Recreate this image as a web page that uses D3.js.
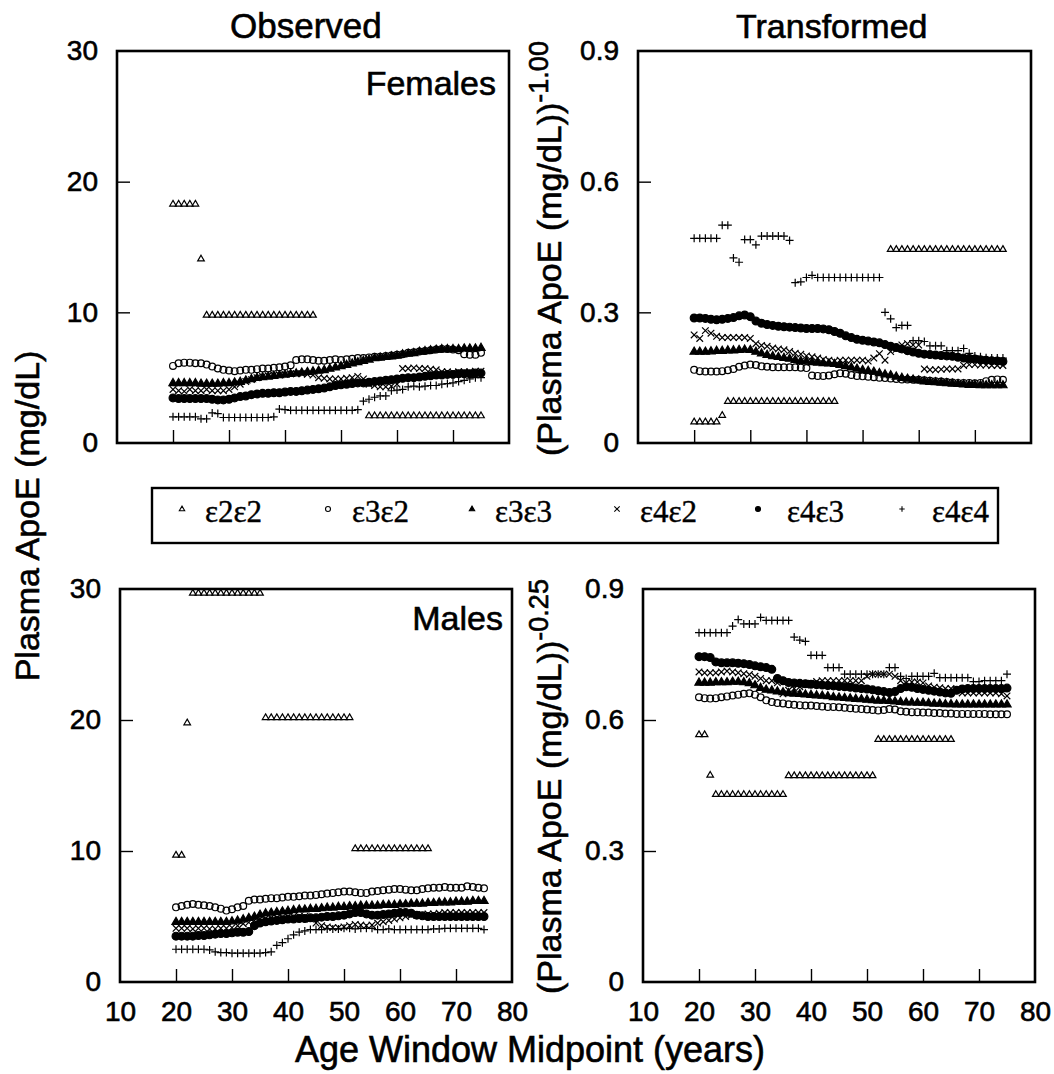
<!DOCTYPE html>
<html>
<head>
<meta charset="utf-8">
<script src="https://cdn.jsdelivr.net/npm/d3@7"></script>
<style>
  body { margin: 0; background: #fff; }
  svg text { font-family: "Liberation Sans", Arial, Helvetica, sans-serif; fill: #000; }
  svg text.heavy { stroke: #000; stroke-width: 0.6px; }
</style>
</head>
<body>
<svg id="chart" width="1054" height="1074"></svg>
<script>
// Age window midpoints (years)
const ages = [20,21,22,23,24,25,26,27,28,29,30,31,32,33,34,35,36,37,38,39,
              40,41,42,43,44,45,46,47,48,49,50,51,52,53,54,55,56,57,58,59,
              60,61,62,63,64,65,66,67,68,69,70,71,72,73,74,75];

const genotypes = ["ε2ε2", "ε3ε2", "ε3ε3", "ε4ε2", "ε4ε3", "ε4ε4"];
const markerTypes = ["triangleOpen", "circleOpen", "triangleFilled", "times", "circleFilled", "plus"];

const yTicksObserved = [0, 10, 20, 30];
const yTicksTransformed = [0, 0.3, 0.6, 0.9];
const xTickLabels = [10, 20, 30, 40, 50, 60, 70, 80];
const xTicksInner = [20, 30, 40, 50, 60, 70];

const _ = null;

// ---- Females, observed plasma ApoE (mg/dL)
const femObs_e2e2 = [18.3,18.3,18.3,18.3,18.3,14.1,9.8,9.8,9.8,9.8,9.8,9.8,9.8,9.8,9.8,9.8,9.8,9.8,9.8,9.8,
  9.8,9.8,9.8,9.8,9.8,9.8,_,_,_,_,_,_,_,_,_,2.1,2.1,2.1,2.1,2.1,
  2.1,2.1,2.1,2.1,2.1,2.1,2.1,2.1,2.1,2.1,2.1,2.1,2.1,2.1,2.1,2.1];
const femObs_e3e2 = [5.9,6.1,6.15,6.15,6.1,6.1,6.0,5.85,5.7,5.6,
  5.55,5.5,5.55,5.6,5.6,5.65,5.7,5.7,5.75,5.8,
  5.85,5.95,6.35,6.4,6.4,6.35,6.3,6.3,6.35,6.4,
  6.35,6.4,6.45,6.5,6.5,6.55,6.6,6.6,6.65,6.7,
  6.75,6.8,6.9,6.95,7.0,7.05,7.1,7.15,7.2,7.2,
  7.15,7.1,6.8,6.75,6.75,6.9];
const femObs_e3e3 = [4.6,4.6,4.6,4.6,4.6,4.55,4.55,4.55,4.55,4.6,
  4.6,4.65,4.7,4.8,4.9,5.0,5.05,5.1,5.15,5.2,
  5.25,5.3,5.35,5.4,5.45,5.5,5.55,5.6,5.7,5.8,
  5.9,6.0,6.1,6.2,6.3,6.4,6.5,6.55,6.6,6.65,
  6.7,6.8,6.85,6.9,7.0,7.05,7.1,7.15,7.2,7.2,
  7.2,7.2,7.25,7.25,7.25,7.3];
const femObs_e4e2 = [4.1,4.0,3.95,4.1,4.0,4.0,4.1,4.0,4.0,4.0,
  4.1,4.3,4.5,4.7,4.85,5.0,5.1,5.15,5.2,5.2,
  5.25,5.3,5.3,5.3,5.25,5.2,5.0,4.95,4.9,4.9,
  4.9,4.95,5.0,5.1,4.9,4.5,4.4,4.3,4.3,4.35,
  4.5,5.7,5.7,5.75,5.7,5.7,5.65,5.6,5.45,5.45,
  5.4,5.45,5.45,5.45,5.5,5.5];
const femObs_e4e3 = [3.45,3.4,3.4,3.4,3.4,3.4,3.4,3.35,3.3,3.3,
  3.35,3.45,3.55,3.6,3.7,3.75,3.8,3.8,3.85,3.85,
  3.9,3.95,3.95,4.0,4.05,4.1,4.15,4.2,4.3,4.4,
  4.45,4.5,4.55,4.6,4.6,4.65,4.7,4.75,4.8,4.85,
  4.9,4.95,5.0,5.0,5.05,5.1,5.15,5.2,5.2,5.25,
  5.25,5.3,5.3,5.3,5.35,5.35];
const femObs_e4e4 = [2.0,2.0,2.0,2.0,2.0,1.85,1.85,2.3,2.25,1.95,
  1.95,1.95,1.95,1.95,1.95,1.95,1.95,1.95,2.0,2.6,
  2.55,2.5,2.5,2.5,2.5,2.5,2.5,2.5,2.5,2.5,
  2.5,2.5,2.5,2.55,3.2,3.35,3.5,3.6,3.6,4.0,
  4.05,4.1,4.3,4.35,4.3,4.35,4.4,4.4,4.5,4.55,
  4.6,4.7,4.8,4.9,5.0,5.0];

// ---- Females, transformed (mg/dL)^-1.00
const femTr_e2e2 = [0.049,0.049,0.049,0.049,0.049,0.064,0.096,0.096,0.096,0.096,
  0.096,0.096,0.096,0.096,0.096,0.096,0.096,0.096,0.096,0.096,
  0.096,0.096,0.096,0.096,0.096,0.096,_,_,_,_,_,_,_,_,_,0.445,0.445,0.445,0.445,0.445,
  0.445,0.445,0.445,0.445,0.445,0.445,0.445,0.445,0.445,0.445,0.445,0.445,0.445,0.445,0.445,0.445];
const femTr_e3e2 = [0.168,0.165,0.164,0.164,0.164,0.165,0.167,0.17,0.175,0.178,
  0.18,0.179,0.176,0.175,0.174,0.174,0.174,0.174,0.174,0.173,
  0.172,0.155,0.154,0.154,0.155,0.158,0.16,0.159,0.156,0.154,
  0.153,0.152,0.151,0.15,0.149,0.148,0.147,0.146,0.146,0.145,
  0.145,0.144,0.143,0.142,0.141,0.14,0.139,0.138,0.138,0.138,
  0.137,0.138,0.142,0.145,0.146,0.145];
const femTr_e3e3 = [0.21,0.21,0.21,0.211,0.212,0.212,0.213,0.213,0.214,0.215,
  0.214,0.21,0.206,0.203,0.2,0.198,0.196,0.194,0.191,0.189,
  0.188,0.186,0.185,0.184,0.183,0.182,0.18,0.177,0.174,0.171,
  0.168,0.166,0.164,0.161,0.158,0.156,0.153,0.15,0.148,0.146,
  0.144,0.142,0.141,0.14,0.139,0.138,0.137,0.136,0.135,0.134,
  0.134,0.133,0.133,0.133,0.133,0.133];
const femTr_e4e2 = [0.248,0.24,0.258,0.252,0.245,0.242,0.242,0.242,0.242,0.242,
  0.24,0.228,0.224,0.222,0.218,0.216,0.214,0.21,0.206,0.204,
  0.2,0.198,0.195,0.192,0.19,0.188,0.19,0.19,0.19,0.19,
  0.19,0.188,0.195,0.205,0.19,0.21,0.215,0.225,0.228,0.225,
  0.225,0.17,0.168,0.168,0.169,0.17,0.17,0.17,0.178,0.18,
  0.18,0.179,0.179,0.178,0.178,0.178];
const femTr_e4e3 = [0.287,0.287,0.286,0.284,0.283,0.284,0.286,0.288,0.292,0.294,
  0.29,0.28,0.275,0.272,0.27,0.268,0.267,0.266,0.265,0.264,
  0.263,0.263,0.263,0.262,0.26,0.256,0.252,0.246,0.242,0.238,
  0.236,0.234,0.232,0.23,0.226,0.222,0.219,0.216,0.212,0.209,
  0.206,0.204,0.203,0.202,0.201,0.2,0.199,0.197,0.195,0.194,
  0.193,0.191,0.19,0.189,0.188,0.187];
const femTr_e4e4 = [0.47,0.47,0.47,0.47,0.47,0.5,0.5,0.425,0.415,0.467,
  0.467,0.455,0.475,0.475,0.475,0.475,0.475,0.465,0.368,0.37,
  0.38,0.385,0.38,0.38,0.38,0.38,0.38,0.38,0.38,0.38,
  0.38,0.38,0.38,0.38,0.3,0.285,0.265,0.27,0.27,0.235,
  0.235,0.233,0.223,0.223,0.223,0.212,0.212,0.212,0.217,0.206,
  0.2,0.198,0.196,0.195,0.195,0.195];

// ---- Males, observed plasma ApoE (mg/dL)
const malObs_e2e2 = [9.7,9.7,19.8,29.7,29.7,29.7,29.7,29.7,29.7,29.7,
  29.7,29.7,29.7,29.7,29.7,29.7,20.2,20.2,20.2,20.2,
  20.2,20.2,20.2,20.2,20.2,20.2,20.2,20.2,20.2,20.2,
  20.2,20.2,10.2,10.2,10.2,10.2,10.2,10.2,10.2,10.2,
  10.2,10.2,10.2,10.2,10.2,10.2,_,_,_,_,_,_,_,_,_,_];
const malObs_e3e2 = [5.7,5.8,5.9,5.95,5.9,5.85,5.8,5.7,5.6,5.45,
  5.55,5.7,5.8,6.2,6.3,6.3,6.35,6.4,6.4,6.45,
  6.5,6.5,6.55,6.6,6.6,6.65,6.7,6.75,6.8,6.85,
  6.9,6.9,6.85,6.8,6.8,6.9,6.95,7.0,7.05,7.1,
  7.1,7.05,7.0,7.0,7.1,7.15,7.2,7.2,7.25,7.2,
  7.2,7.2,7.3,7.25,7.2,7.15];
const malObs_e3e3 = [4.6,4.6,4.6,4.6,4.6,4.6,4.6,4.6,4.6,4.6,
  4.65,4.7,4.8,4.9,5.0,5.15,5.25,5.3,5.35,5.4,
  5.45,5.5,5.55,5.55,5.6,5.6,5.65,5.7,5.7,5.75,
  5.75,5.8,5.8,5.85,5.85,5.85,5.85,5.9,5.9,5.9,
  5.95,5.95,6.0,6.0,6.0,6.05,6.05,6.1,6.1,6.1,
  6.15,6.15,6.15,6.2,6.2,6.2];
const malObs_e4e2 = [4.1,4.1,4.1,4.05,4.1,4.1,4.05,4.05,4.1,4.1,
  4.15,4.3,4.45,4.55,4.7,4.8,4.85,4.9,4.9,4.95,
  5.0,5.0,5.0,5.0,4.8,4.5,4.3,4.2,4.15,4.15,
  4.2,4.3,4.4,4.35,4.3,4.35,4.5,4.6,4.7,4.8,
  4.9,5.0,5.1,5.1,5.15,5.2,5.2,5.25,5.3,5.3,
  5.3,5.3,5.3,5.3,5.3,5.3];
const malObs_e4e3 = [3.5,3.5,3.5,3.5,3.55,3.55,3.6,3.65,3.7,3.7,
  3.75,3.8,3.8,3.85,4.3,4.5,4.6,4.65,4.7,4.75,
  4.8,4.8,4.85,4.85,4.9,4.9,4.95,5.0,5.0,5.05,
  5.1,5.2,5.3,5.3,5.2,5.1,5.1,5.15,5.2,5.25,
  5.3,5.3,5.25,5.1,5.05,5.0,5.0,5.0,5.0,5.0,
  5.0,5.0,5.0,5.0,5.0,5.0];
const malObs_e4e4 = [2.5,2.5,2.5,2.5,2.5,2.5,2.45,2.3,2.25,2.25,
  2.2,2.2,2.2,2.2,2.2,2.2,2.25,2.3,2.8,3.0,
  3.3,3.6,3.8,3.9,4.0,4.0,4.0,4.05,4.05,4.05,
  4.1,4.1,4.05,4.1,4.1,4.1,4.0,4.0,4.05,4.0,
  4.0,4.0,4.0,4.0,4.0,4.0,4.05,4.05,4.1,4.1,
  4.1,4.1,4.1,4.1,4.1,4.0];

// ---- Males, transformed (mg/dL)^-0.25
const malTr_e2e2 = [0.567,0.567,0.474,0.43,0.43,0.43,0.43,0.43,0.43,0.43,
  0.43,0.43,0.43,0.43,0.43,0.43,0.473,0.473,0.473,0.473,
  0.473,0.473,0.473,0.473,0.473,0.473,0.473,0.473,0.473,0.473,
  0.473,0.473,0.556,0.556,0.556,0.556,0.556,0.556,0.556,0.556,
  0.556,0.556,0.556,0.556,0.556,0.556,_,_,_,_,_,_,_,_,_,_];
const malTr_e3e2 = [0.652,0.65,0.649,0.65,0.652,0.654,0.656,0.658,0.66,0.661,
  0.658,0.652,0.645,0.641,0.639,0.638,0.636,0.635,0.634,0.633,
  0.633,0.632,0.631,0.63,0.63,0.629,0.628,0.627,0.626,0.625,
  0.624,0.623,0.622,0.623,0.625,0.624,0.62,0.619,0.618,0.618,
  0.617,0.617,0.616,0.616,0.615,0.615,0.614,0.614,0.614,0.614,
  0.614,0.614,0.613,0.613,0.613,0.613];
const malTr_e3e3 = [0.686,0.686,0.686,0.687,0.687,0.687,0.688,0.688,0.687,0.685,
  0.68,0.674,0.67,0.668,0.666,0.664,0.662,0.661,0.66,0.659,
  0.658,0.657,0.656,0.655,0.653,0.652,0.651,0.65,0.649,0.648,
  0.647,0.646,0.645,0.645,0.644,0.643,0.642,0.641,0.641,0.64,
  0.64,0.639,0.638,0.638,0.637,0.637,0.636,0.636,0.636,0.636,
  0.636,0.636,0.636,0.636,0.636,0.636];
const malTr_e4e2 = [0.71,0.708,0.708,0.708,0.71,0.712,0.71,0.708,0.706,0.704,
  0.7,0.695,0.69,0.69,0.685,0.66,0.668,0.672,0.676,0.68,
  0.684,0.688,0.69,0.69,0.69,0.69,0.69,0.69,0.69,0.69,
  0.7,0.705,0.705,0.705,0.705,0.7,0.69,0.685,0.687,0.687,
  0.685,0.678,0.675,0.674,0.672,0.672,0.67,0.662,0.662,0.662,
  0.662,0.662,0.662,0.662,0.66,0.655];
const malTr_e4e3 = [0.745,0.745,0.743,0.733,0.731,0.731,0.731,0.73,0.729,0.727,
  0.724,0.722,0.72,0.716,0.695,0.69,0.686,0.685,0.684,0.683,
  0.682,0.681,0.68,0.679,0.678,0.677,0.676,0.675,0.673,0.672,
  0.671,0.669,0.667,0.665,0.663,0.665,0.672,0.676,0.675,0.672,
  0.67,0.668,0.666,0.664,0.662,0.661,0.668,0.671,0.672,0.672,
  0.672,0.672,0.672,0.672,0.672,0.673];
const malTr_e4e4 = [0.8,0.8,0.8,0.8,0.8,0.8,0.815,0.83,0.82,0.82,
  0.82,0.835,0.828,0.828,0.828,0.828,0.828,0.79,0.783,0.78,
  0.748,0.748,0.748,0.72,0.72,0.72,0.705,0.705,0.705,0.705,
  0.705,0.705,0.705,0.705,0.72,0.72,0.7,0.695,0.7,0.7,
  0.7,0.7,0.707,0.697,0.697,0.697,0.697,0.697,0.697,0.688,
  0.688,0.69,0.69,0.69,0.69,0.705];

const femObsSeries = [femObs_e2e2, femObs_e3e2, femObs_e3e3, femObs_e4e2, femObs_e4e3, femObs_e4e4];
const femTrSeries  = [femTr_e2e2, femTr_e3e2, femTr_e3e3, femTr_e4e2, femTr_e4e3, femTr_e4e4];
const malObsSeries = [malObs_e2e2, malObs_e3e2, malObs_e3e3, malObs_e4e2, malObs_e4e3, malObs_e4e4];
const malTrSeries  = [malTr_e2e2, malTr_e3e2, malTr_e3e3, malTr_e4e2, malTr_e4e3, malTr_e4e4];

// ---------------------------------------------------------------
const svg = d3.select("#chart");
const FONT = 34, TICK_FONT = 28;

// Marker shapes centred on (0,0)
function markerPath(type, s) {
  const h = s * 0.866;
  switch (type) {
    case "triangleOpen":
    case "triangleFilled":
      return `M0,${-h * 0.62}L${s / 2},${h * 0.38}L${-s / 2},${h * 0.38}Z`;
    case "times":
      return `M${-s / 2},${-s / 2}L${s / 2},${s / 2}M${-s / 2},${s / 2}L${s / 2},${-s / 2}`;
    case "plus":
      return `M${-s / 2},0L${s / 2},0M0,${-s / 2}L0,${s / 2}`;
  }
  return null;
}

function drawMarker(g, type, x, y, s, sw) {
  if (type === "circleOpen" || type === "circleFilled") {
    g.append("circle").attr("cx", x).attr("cy", y).attr("r", s / 2)
      .attr("fill", type === "circleFilled" ? "#000" : "none")
      .attr("stroke", "#000").attr("stroke-width", sw);
  } else {
    g.append("path").attr("d", markerPath(type, s))
      .attr("transform", `translate(${x},${y})`)
      .attr("fill", type === "triangleFilled" ? "#000" : "none")
      .attr("stroke", "#000").attr("stroke-width", sw);
  }
}

const markerSize = {
  triangleOpen: 6.6, circleOpen: 6.8, triangleFilled: 8.2,
  times: 6.6, circleFilled: 7.8, plus: 8
};

const panels = [
  { series: femObsSeries, x0: 117, x1: 509, y0: 51, y1: 443, domain: [0, 30], yTicks: yTicksObserved, xLabels: false },
  { series: femTrSeries,  x0: 638, x1: 1031, y0: 51, y1: 443, domain: [0, 0.9], yTicks: yTicksTransformed, xLabels: false },
  { series: malObsSeries, x0: 120, x1: 512, y0: 589, y1: 982, domain: [0, 30], yTicks: yTicksObserved, xLabels: true },
  { series: malTrSeries,  x0: 643, x1: 1035, y0: 589, y1: 982, domain: [0, 0.9], yTicks: yTicksTransformed, xLabels: true }
];

panels.forEach(p => {
  const x = d3.scaleLinear().domain([10, 80]).range([p.x0, p.x1]);
  const y = d3.scaleLinear().domain(p.domain).range([p.y1, p.y0]);
  const g = svg.append("g");

  // points
  p.series.forEach((vals, si) => {
    const type = markerTypes[si];
    const sg = g.append("g").attr("class", "series-" + si);
    vals.forEach((v, i) => {
      if (v === null) return;
      drawMarker(sg, type, x(ages[i]), y(v), markerSize[type], 1.2);
    });
  });

  // y axis (inward ticks)
  const ya = d3.axisLeft(y).tickValues(p.yTicks).tickSize(-13).tickPadding(19)
    .tickFormat(d => String(d));
  const yg = g.append("g").attr("transform", `translate(${p.x0},0)`).call(ya);
  yg.select(".domain").remove();
  yg.selectAll(".tick line").attr("stroke-width", 1.4)
    .filter(d => d === p.domain[0] || d === p.domain[1]).remove();
  yg.selectAll("text").attr("font-size", TICK_FONT).attr("font-family", null).attr("class", "heavy");

  // x axis (inward ticks)
  const xa = d3.axisBottom(x).tickSize(-13).tickPadding(19)
    .tickValues(p.xLabels ? xTickLabels : xTicksInner)
    .tickFormat(d => p.xLabels ? String(d) : "");
  const xg = g.append("g").attr("transform", `translate(0,${p.y1})`).call(xa);
  xg.select(".domain").remove();
  xg.selectAll(".tick line").attr("stroke-width", 1.4)
    .filter(d => d === 10 || d === 80).remove();
  xg.selectAll("text").attr("font-size", TICK_FONT).attr("font-family", null).attr("class", "heavy");

  // frame
  g.append("rect").attr("x", p.x0).attr("y", p.y0)
    .attr("width", p.x1 - p.x0).attr("height", p.y1 - p.y0)
    .attr("fill", "none").attr("stroke", "#000").attr("stroke-width", 2.6);
});

// column titles
svg.append("text").attr("class", "heavy").attr("x", 230).attr("y", 38).attr("font-size", 35).text("Observed");
svg.append("text").attr("class", "heavy").attr("x", 736).attr("y", 38).attr("font-size", 34).text("Transformed");

// panel tags
svg.append("text").attr("class", "heavy").attr("x", 496).attr("y", 95).attr("text-anchor", "end").attr("font-size", FONT).text("Females");
svg.append("text").attr("class", "heavy").attr("x", 503).attr("y", 630).attr("text-anchor", "end").attr("font-size", FONT).text("Males");

// left axis title
svg.append("text").attr("class", "heavy").attr("transform", "translate(39,516) rotate(-90)")
  .attr("text-anchor", "middle").attr("font-size", FONT).text("Plasma ApoE (mg/dL)");

// transformed axis titles with exponents
function powerLabel(yStart, exponent) {
  const t = svg.append("text").attr("class", "heavy")
    .attr("transform", `translate(561,${yStart}) rotate(-90)`)
    .attr("font-size", FONT);
  t.append("tspan").text("(Plasma ApoE (mg/dL))");
  t.append("tspan").attr("dy", -13).attr("font-size", 27).text(exponent);
}
powerLabel(456, "-1.00");
powerLabel(994, "-0.25");

// bottom axis title
svg.append("text").attr("class", "heavy").attr("x", 530).attr("y", 1062).attr("text-anchor", "middle")
  .attr("font-size", 36).text("Age Window Midpoint (years)");

// legend
const legend = svg.append("g");
legend.append("rect").attr("x", 152).attr("y", 488).attr("width", 846).attr("height", 55)
  .attr("fill", "none").attr("stroke", "#000").attr("stroke-width", 2.4);
const legendMarkerX = [182, 328, 472, 617, 758, 902];
const legendTextX = [205, 352, 495, 640, 787, 932];
genotypes.forEach((gname, i) => {
  const t = markerTypes[i];
  drawMarker(legend, t, legendMarkerX[i], 509, t.startsWith("circle") ? 5 : 5.4, 1.1);
  legend.append("text").attr("x", legendTextX[i]).attr("y", 522)
    .style("font-family", "'Liberation Serif', 'Times New Roman', serif")
    .style("stroke", "#000").style("stroke-width", "0.4px")
    .attr("font-size", 31).text(gname);
});
</script>
</body>
</html>
